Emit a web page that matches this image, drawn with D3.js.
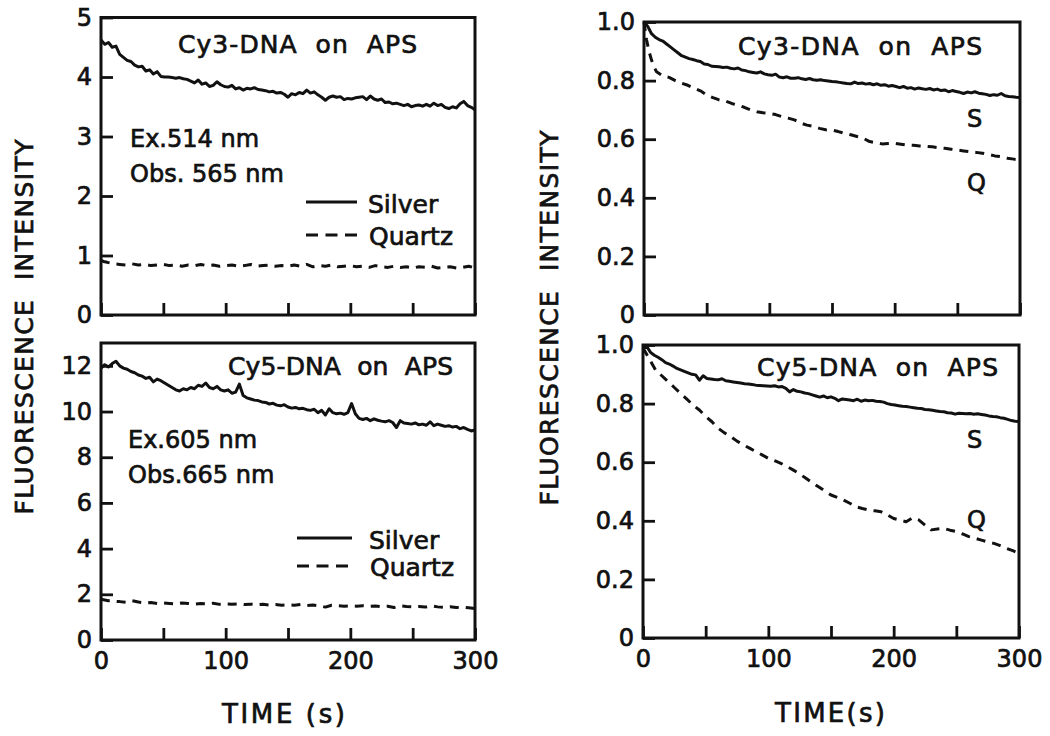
<!DOCTYPE html>
<html>
<head>
<meta charset="utf-8">
<script src="https://cdn.jsdelivr.net/npm/d3@7"></script>
<style>
  html, body { margin: 0; padding: 0; background: #fff; }
  svg { display: block; font-family: "DejaVu Sans", "Liberation Sans", sans-serif; }
  svg text { stroke: #111; stroke-width: 0.7px; }
</style>
</head>
<body>
<svg id="chart" width="1050" height="736"></svg>
<script>
// sampling times (s)
const T_SOLID = [0,3,6,9,12,15,18,21,24,27,30,33,36,39,42,45,48,51,54,57,60,63,66,69,72,75,78,81,84,87,
  90,93,96,99,102,105,108,111,114,117,120,123,126,129,132,135,138,141,144,147,150,153,156,159,162,165,168,171,174,177,
  180,183,186,189,192,195,198,201,204,207,210,213,216,219,222,225,228,231,234,237,240,243,246,249,252,255,258,261,264,267,
  270,273,276,279,282,285,288,291,294,297,300];
const T_DASH = [0,2,4,6,8,10,15,20,25,30,35,40,45,50,55,60,65,70,75,80,85,90,95,100,105,110,115,120,125,130,
  135,140,145,150,155,160,165,170,175,180,185,190,195,200,205,210,215,220,225,230,235,240,245,250,255,260,265,270,275,280,
  285,290,295,300];

// left column: raw intensity
const CY3_SILVER_ABS = [
  4.62,4.55,4.58,4.50,4.52,4.38,4.33,4.28,4.26,4.20,
  4.17,4.18,4.10,4.12,4.05,4.09,4.01,4.00,4.00,3.99,
  3.98,3.99,3.97,3.96,3.93,3.90,3.95,3.88,3.90,3.84,
  3.86,3.92,3.87,3.84,3.83,3.86,3.80,3.82,3.78,3.81,
  3.80,3.82,3.79,3.78,3.77,3.75,3.76,3.73,3.74,3.71,
  3.66,3.72,3.70,3.74,3.72,3.78,3.73,3.75,3.70,3.66,
  3.61,3.66,3.68,3.66,3.67,3.62,3.64,3.63,3.65,3.66,
  3.67,3.62,3.68,3.63,3.61,3.63,3.57,3.58,3.55,3.56,
  3.54,3.52,3.54,3.50,3.52,3.53,3.51,3.54,3.51,3.56,
  3.52,3.54,3.49,3.47,3.50,3.48,3.55,3.59,3.52,3.49,
  3.45];
const CY3_QUARTZ_ABS = [
  0.92,0.90,0.89,0.88,0.87,0.86,
  0.85,0.84,0.86,0.84,0.85,0.83,0.84,0.85,
  0.83,0.84,0.82,0.84,0.83,0.85,0.83,0.84,0.82,0.83,
  0.84,0.82,0.83,0.85,0.82,0.83,0.84,0.82,0.83,0.82,
  0.84,0.82,0.85,0.81,0.83,0.82,0.84,0.81,0.82,0.83,
  0.81,0.82,0.80,0.83,0.81,0.80,0.82,0.80,0.81,0.79,
  0.81,0.80,0.82,0.79,0.80,0.81,0.79,0.80,0.82,0.79];
const CY5_SILVER_ABS = [
  11.90,12.05,11.95,12.10,12.20,12.00,11.90,11.85,11.75,11.70,
  11.60,11.55,11.45,11.50,11.30,11.42,11.35,11.25,11.15,11.05,
  10.95,10.90,11.00,10.95,11.05,11.00,11.15,11.10,11.25,11.05,
  11.00,11.10,10.95,10.90,10.95,10.80,10.85,11.20,10.70,10.60,
  10.55,10.50,10.48,10.42,10.40,10.33,10.36,10.28,10.25,10.30,
  10.20,10.15,10.18,10.12,10.14,10.08,10.05,10.10,9.95,10.05,
  9.85,10.12,9.95,9.90,9.93,9.88,9.95,10.35,9.90,9.70,
  9.65,9.70,9.60,9.68,9.62,9.58,9.55,9.60,9.52,9.30,
  9.60,9.50,9.48,9.45,9.50,9.42,9.45,9.40,9.55,9.38,
  9.45,9.40,9.35,9.38,9.32,9.35,9.25,9.30,9.22,9.15,
  9.20];
const CY5_QUARTZ_ABS = [
  1.80,1.76,1.74,1.72,1.73,1.70,
  1.68,1.65,1.72,1.66,1.62,1.64,1.60,1.62,
  1.60,1.58,1.62,1.60,1.57,1.60,1.58,1.61,1.56,1.58,
  1.56,1.58,1.55,1.57,1.54,1.56,1.53,1.55,1.52,1.54,
  1.52,1.55,1.51,1.53,1.50,1.44,1.52,1.50,1.48,1.50,
  1.48,1.50,1.47,1.49,1.46,1.48,1.42,1.50,1.47,1.45,
  1.47,1.44,1.50,1.45,1.43,1.46,1.42,1.44,1.41,1.38];

// right column: normalised intensity
const CY3_SILVER_NORM = [
  1.000,0.985,0.960,0.948,0.940,0.935,0.925,0.915,0.905,0.895,
  0.885,0.880,0.875,0.872,0.868,0.865,0.857,0.855,0.849,0.848,
  0.847,0.845,0.846,0.842,0.840,0.843,0.836,0.834,0.830,0.828,
  0.826,0.830,0.823,0.820,0.818,0.822,0.812,0.810,0.813,0.808,
  0.808,0.810,0.806,0.804,0.807,0.803,0.801,0.803,0.800,0.799,
  0.797,0.796,0.794,0.792,0.790,0.789,0.795,0.790,0.792,0.788,
  0.790,0.786,0.789,0.784,0.786,0.781,0.783,0.780,0.776,0.780,
  0.774,0.776,0.771,0.775,0.772,0.770,0.773,0.768,0.771,0.766,
  0.768,0.762,0.766,0.763,0.760,0.756,0.761,0.758,0.762,0.757,
  0.755,0.753,0.749,0.752,0.750,0.756,0.748,0.746,0.745,0.743,
  0.742];
const CY3_QUARTZ_NORM = [
  1.000,0.940,0.900,0.870,0.847,0.830,
  0.816,0.811,0.800,0.791,0.784,0.774,0.765,0.751,
  0.742,0.734,0.730,0.722,0.716,0.709,0.700,0.694,0.690,0.688,
  0.684,0.677,0.672,0.666,0.655,0.648,0.644,0.637,0.632,0.631,
  0.626,0.620,0.615,0.609,0.603,0.592,0.588,0.584,0.585,0.586,
  0.583,0.580,0.579,0.577,0.576,0.574,0.571,0.569,0.566,0.563,
  0.560,0.557,0.555,0.552,0.548,0.543,0.540,0.535,0.532,0.529];
const CY5_SILVER_NORM = [
  0.990,0.995,0.975,0.965,0.958,0.950,0.940,0.935,0.928,0.920,
  0.915,0.910,0.905,0.900,0.898,0.880,0.895,0.886,0.884,0.882,
  0.881,0.885,0.878,0.876,0.874,0.872,0.870,0.868,0.867,0.865,
  0.863,0.862,0.861,0.860,0.859,0.861,0.857,0.858,0.852,0.840,
  0.848,0.842,0.840,0.836,0.834,0.830,0.826,0.822,0.826,0.820,
  0.823,0.818,0.810,0.816,0.814,0.812,0.810,0.815,0.808,0.812,
  0.810,0.811,0.808,0.807,0.805,0.800,0.797,0.795,0.793,0.791,
  0.790,0.788,0.786,0.784,0.783,0.780,0.779,0.777,0.775,0.773,
  0.772,0.769,0.768,0.764,0.767,0.766,0.765,0.766,0.764,0.765,
  0.763,0.761,0.758,0.756,0.755,0.752,0.750,0.746,0.742,0.740,
  0.739];
const CY5_QUARTZ_NORM = [
  0.990,0.975,0.960,0.945,0.930,0.915,
  0.895,0.875,0.855,0.835,0.815,0.795,0.778,0.756,
  0.738,0.716,0.700,0.687,0.672,0.659,0.648,0.636,0.625,0.613,
  0.605,0.596,0.585,0.573,0.560,0.545,0.530,0.516,0.502,0.488,
  0.480,0.471,0.460,0.448,0.442,0.437,0.434,0.431,0.420,0.408,
  0.402,0.397,0.410,0.403,0.385,0.369,0.372,0.374,0.368,0.363,
  0.355,0.346,0.340,0.334,0.328,0.323,0.315,0.306,0.298,0.289];

const X_TICKS = [0, 50, 100, 150, 200, 250, 300];
const X_LABELS = [0, 100, 200, 300];
const Y_TICKS_CY3_ABS = [0, 1, 2, 3, 4, 5];
const Y_TICKS_CY5_ABS = [0, 2, 4, 6, 8, 10, 12];
const Y_TICKS_NORM = [0, 0.2, 0.4, 0.6, 0.8, 1.0];

const svg = d3.select('#chart');
const INK = '#111';
const normFmt = d => d === 0 ? '0' : d.toFixed(1);

const panels = [
  { left: 101, right: 475, top: 17.5, bottom: 315, yMax: 5, yTicks: Y_TICKS_CY3_ABS, fmt: d => d,
    silver: CY3_SILVER_ABS, quartz: CY3_QUARTZ_ABS, xLabels: false,
    title: 'Cy3-DNA  on  APS', titleX: 178, titleY: 53, titleW: 239,
    notes: [['Ex.514 nm', 130, 147], ['Obs. 565 nm', 130, 182]],
    legend: { x1: 306, x2: 357, tx: 368, ys: 202, yq: 235 } },
  { left: 101, right: 475, top: 343, bottom: 640, yMax: 13, yTicks: Y_TICKS_CY5_ABS, fmt: d => d,
    silver: CY5_SILVER_ABS, quartz: CY5_QUARTZ_ABS, xLabels: true,
    title: 'Cy5-DNA  on  APS', titleX: 228, titleY: 375, titleW: 225,
    notes: [['Ex.605 nm', 128, 448], ['Obs.665 nm', 128, 483]],
    legend: { x1: 297, x2: 352, tx: 369, ys: 538, yq: 566 } },
  { left: 644, right: 1020, top: 22, bottom: 315, yMax: 1, yTicks: Y_TICKS_NORM, fmt: normFmt,
    silver: CY3_SILVER_NORM, quartz: CY3_QUARTZ_NORM, xLabels: false,
    title: 'Cy3-DNA  on  APS', titleX: 738, titleY: 55, titleW: 244,
    notes: [['S', 967, 127], ['Q', 967, 191]] },
  { left: 643, right: 1019, top: 345, bottom: 638, yMax: 1, yTicks: Y_TICKS_NORM, fmt: normFmt,
    silver: CY5_SILVER_NORM, quartz: CY5_QUARTZ_NORM, xLabels: true,
    title: 'Cy5-DNA  on  APS', titleX: 757, titleY: 376, titleW: 241,
    notes: [['S', 967, 448], ['Q', 967, 528]] }
];

panels.forEach(p => {
  const x = d3.scaleLinear().domain([0, 300]).range([p.left, p.right]);
  const y = d3.scaleLinear().domain([0, p.yMax]).range([p.bottom, p.top]);
  const g = svg.append('g');

  const line = d3.line().x(d => x(d[0])).y(d => y(d[1]));
  const silverPts = T_SOLID.map((t, i) => [t, p.silver[i]]).filter(d => d[1] != null);
  const quartzPts = T_DASH.map((t, i) => [t, p.quartz[i]]).filter(d => d[1] != null);

  g.append('path').attr('d', line(quartzPts))
    .attr('fill', 'none').attr('stroke', INK).attr('stroke-width', 3)
    .attr('stroke-dasharray', '9,7').attr('stroke-linejoin', 'round');
  g.append('path').attr('d', line(silverPts))
    .attr('fill', 'none').attr('stroke', INK).attr('stroke-width', 3)
    .attr('stroke-linejoin', 'round');

  // axes, ticks pointing inward
  const xAxis = d3.axisBottom(x).tickValues(X_TICKS).tickSizeInner(-12).tickSizeOuter(0).tickPadding(12)
    .tickFormat(d => p.xLabels && X_LABELS.includes(d) ? d : '');
  const yAxis = d3.axisLeft(y).tickValues(p.yTicks).tickSizeInner(-12).tickSizeOuter(0).tickPadding(9)
    .tickFormat(p.fmt);

  const xg = g.append('g').attr('transform', `translate(0,${p.bottom})`).call(xAxis);
  const yg = g.append('g').attr('transform', `translate(${p.left},0)`).call(yAxis);
  [xg, yg].forEach(a => {
    a.select('.domain').remove();
    a.selectAll('line').attr('stroke', INK).attr('stroke-width', 2.8);
    a.selectAll('text').attr('fill', INK).style('font-size', '24px').style('font-family', '"DejaVu Sans", sans-serif');
  });

  g.append('rect')
    .attr('x', p.left).attr('y', p.top)
    .attr('width', p.right - p.left).attr('height', p.bottom - p.top)
    .attr('fill', 'none').attr('stroke', INK).attr('stroke-width', 3);

  g.append('text').attr('x', p.titleX).attr('y', p.titleY)
    .attr('textLength', p.titleW).attr('lengthAdjust', 'spacing')
    .attr('fill', INK).style('font-size', '25px').style('white-space', 'pre')
    .text(p.title);

  p.notes.forEach(([txt, nx, ny]) => {
    g.append('text').attr('x', nx).attr('y', ny).attr('fill', INK)
      .style('font-size', '24px').text(txt);
  });

  if (p.legend) {
    const L = p.legend;
    g.append('line').attr('x1', L.x1).attr('x2', L.x2).attr('y1', L.ys).attr('y2', L.ys)
      .attr('stroke', INK).attr('stroke-width', 3);
    g.append('line').attr('x1', L.x1).attr('x2', L.x2).attr('y1', L.yq).attr('y2', L.yq)
      .attr('stroke', INK).attr('stroke-width', 3).attr('stroke-dasharray', '12,7.5');
    g.append('text').attr('x', L.tx).attr('y', L.ys + 11).attr('fill', INK).style('font-size', '25px').text('Silver');
    g.append('text').attr('x', L.tx + 1).attr('y', L.yq + 10).attr('fill', INK).style('font-size', '25px').text('Quartz');
  }
});

// axis titles
const yTitles = [[33, 327], [558, 318]];
yTitles.forEach(([tx, ty]) => {
  svg.append('text')
    .attr('transform', `translate(${tx},${ty}) rotate(-90)`)
    .attr('text-anchor', 'middle')
    .attr('textLength', 375).attr('lengthAdjust', 'spacing')
    .attr('fill', INK).style('font-size', '25px').style('white-space', 'pre')
    .text('FLUORESCENCE  INTENSITY');
});
const xTitles = [['TIME (s)', 222, 723, 123], ['TIME(s)', 775, 722, 110]];
xTitles.forEach(([txt, tx, ty, w]) => {
  svg.append('text').attr('x', tx).attr('y', ty)
    .attr('textLength', w).attr('lengthAdjust', 'spacing')
    .attr('fill', INK).style('font-size', '26px').style('white-space', 'pre')
    .text(txt);
});
</script>
</body>
</html>
